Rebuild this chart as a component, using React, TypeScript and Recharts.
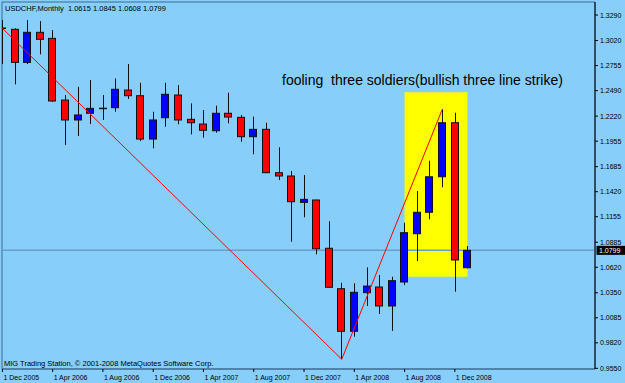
import React from 'react';
import {
    ComposedChart, Bar, Line, XAxis, YAxis, ReferenceArea, ReferenceLine, Customized
} from 'recharts';

// USDCHF monthly, Dec 2005 .. Jan 2009 (index 0 = Dec 2005)
const opens = [
    1.3152, 1.3139, 1.2789, 1.3107, 1.3043, 1.2390, 1.2179, 1.2250, 1.2298, 1.2309,
    1.2496, 1.2436, 1.1977, 1.2203, 1.2443, 1.2186, 1.2136, 1.2065, 1.2250, 1.2207,
    1.2002, 1.2080, 1.1621, 1.1586, 1.1307, 1.1332, 1.0821, 1.0393, 0.9942, 1.0351,
    1.0411, 1.0210, 1.0464, 1.0975, 1.1202, 1.1578, 1.2150, 1.0615,
];
const highs = [
    1.3237, 1.3150, 1.3237, 1.3226, 1.3131, 1.2443, 1.2531, 1.2602, 1.2443, 1.2620,
    1.2771, 1.2573, 1.2266, 1.2573, 1.2549, 1.2355, 1.2284, 1.2330, 1.2468, 1.2232,
    1.2214, 1.2150, 1.1890, 1.1639, 1.1596, 1.1336, 1.1109, 1.0456, 1.0450, 1.0619,
    1.0538, 1.0520, 1.1092, 1.1427, 1.1748, 1.2292, 1.2256, 1.0845,
];
const lows = [
    1.2771, 1.2556, 1.2771, 1.2874, 1.2369, 1.1914, 1.2009, 1.2136, 1.2179, 1.2266,
    1.2401, 1.1956, 1.1879, 1.2108, 1.2133, 1.2027, 1.1991, 1.2044, 1.2144, 1.1949,
    1.1816, 1.1618, 1.1543, 1.0890, 1.1149, 1.0757, 1.0400, 0.9646, 0.9885, 1.0210,
    1.0125, 0.9946, 1.0432, 1.0686, 1.1127, 1.1466, 1.0361, 1.0608,
];
const closes = [
    1.3149, 1.2789, 1.3107, 1.3033, 1.2380, 1.2179, 1.2232, 1.2302, 1.2304, 1.2504,
    1.2436, 1.1977, 1.2179, 1.2451, 1.2179, 1.2150, 1.2070, 1.2250, 1.2210, 1.2002,
    1.2080, 1.1621, 1.1586, 1.1314, 1.1339, 1.0816, 1.0408, 0.9942, 1.0355, 1.0421,
    1.0210, 1.0478, 1.0986, 1.1202, 1.1578, 1.2150, 1.0697, 1.0799,
];

// zigzag turning points (month index -> price)
const zigIndex = [0, 27, 35];
const zigPrice = [1.3149, 0.9646, 1.2292];

const xTicks = [0, 4, 8, 12, 16, 20, 24, 28, 32, 36];
const xTickLabels = [
    '1 Dec 2005', '1 Apr 2006', '1 Aug 2006', '1 Dec 2006', '1 Apr 2007',
    '1 Aug 2007', '1 Dec 2007', '1 Apr 2008', '1 Aug 2008', '1 Dec 2008',
];
const yTicks = [
    0.9550, 0.9820, 1.0085, 1.0350, 1.0620, 1.0885, 1.1155, 1.1420,
    1.1685, 1.1955, 1.2220, 1.2490, 1.2755, 1.3020, 1.3290,
];

// highlighted box around the pattern
const boxFrom = 32;
const boxTo = 37;
const boxLow = 1.0520;
const boxHigh = 1.2472;

const X_DOMAIN: [number, number] = [-0.03, 47.15];
const Y_DOMAIN: [number, number] = [0.9543, 1.3428];

const data = opens.map((o, i) => {
    const z = zigIndex.indexOf(i);
    return {
        i,
        open: o,
        high: highs[i],
        low: lows[i],
        close: closes[i],
        range: [lows[i], highs[i]],
        zig: z >= 0 ? zigPrice[z] : null,
    };
});

const FONT = '"Liberation Sans", Arial, sans-serif';
const BG = '#87CEFA';

const Candle = (props: any) => {
    const { x, y, width, height, payload } = props;
    if (!payload || x == null || y == null) return null;
    const top = Math.min(y, y + height);
    const bot = Math.max(y, y + height);
    const { open, close, high, low } = payload;
    const toPx = (v: number) => top + ((high - v) / (high - low)) * (bot - top);
    const left = Math.round(x);
    const cx = left + Math.floor(width / 2) + 0.5;
    const oy = toPx(open);
    const cy = toPx(close);
    const bTop = Math.min(oy, cy);
    const bBot = Math.max(oy, cy);
    const up = close >= open;
    return (
        <g>
            <line x1={cx} x2={cx} y1={top} y2={bot} stroke="#111" strokeWidth={1} />
            {bBot - bTop < 1.5 ? (
                <line x1={left} x2={left + width} y1={(bTop + bBot) / 2} y2={(bTop + bBot) / 2}
                    stroke="#111" strokeWidth={1.5} />
            ) : (
                <rect x={left + 0.5} y={bTop} width={width - 1} height={bBot - bTop}
                    fill={up ? '#0000FF' : '#FF0000'} stroke="#111" strokeWidth={1} />
            )}
        </g>
    );
};

const XTick = (props: any) => {
    const { x, y, payload } = props;
    const idx = xTicks.indexOf(payload.value);
    return (
        <text x={x + 1} y={y} dy={5.5} fontSize={7} fill="#000" textAnchor="start" fontFamily={FONT}>
            {idx >= 0 ? xTickLabels[idx] : ''}
        </text>
    );
};

const BidLabel = (props: any) => {
    const vb = props.viewBox || {};
    const bx = vb.x + vb.width + 1.5;
    const by = vb.y;
    return (
        <g>
            <rect x={bx} y={by - 4.5} width={29} height={9} fill="#000" />
            <text x={bx + 2.5} y={by + 2.6} fill="#fff" fontSize={7} fontFamily={FONT}>
                {closes[closes.length - 1].toFixed(4)}
            </text>
        </g>
    );
};

const last = data[data.length - 1];

const Texts = () => (
    <g fontFamily={FONT} fill="#000" style={{ whiteSpace: 'pre' }}>
        <text x={5} y={11} fontSize={7.5} xmlSpace="preserve">
            {`USDCHF,Monthly  ${last.open.toFixed(4)} ${last.high.toFixed(4)} ${last.low.toFixed(4)} ${last.close.toFixed(4)}`}
        </text>
        <text x={282} y={85} fontSize={14} xmlSpace="preserve">
            {'fooling  three soldiers(bullish three line strike)'}
        </text>
        <text x={4} y={366} fontSize={7.5}>MIG Trading Station, © 2001-2008 MetaQuotes Software Corp.</text>
    </g>
);

export default function App() {
    return (
        <div style={{ position: 'absolute', left: 0, top: 0, width: 625, height: 383, background: BG }}>
            <ComposedChart
                width={625}
                height={383}
                data={data}
                margin={{ top: 2, right: 0, bottom: 0, left: 2 }}
                style={{ fontFamily: FONT }}
            >
                <XAxis
                    type="number"
                    dataKey="i"
                    domain={X_DOMAIN}
                    allowDataOverflow
                    ticks={xTicks}
                    height={14}
                    tickSize={3}
                    tickMargin={2}
                    axisLine={{ stroke: '#3d6a92' }}
                    tickLine={{ stroke: '#000' }}
                    tick={<XTick />}
                    interval={0}
                />
                <YAxis
                    type="number"
                    orientation="right"
                    domain={Y_DOMAIN}
                    allowDataOverflow
                    ticks={yTicks}
                    width={30}
                    tickSize={3}
                    tickMargin={2}
                    axisLine={{ stroke: '#000' }}
                    tickLine={{ stroke: '#000' }}
                    tick={{ fontSize: 7, fill: '#000', fontFamily: FONT }}
                    tickFormatter={(v: number) => v.toFixed(4)}
                    interval={0}
                />
                <ReferenceArea
                    x1={X_DOMAIN[0]} x2={X_DOMAIN[1]} y1={Y_DOMAIN[0]} y2={Y_DOMAIN[1]}
                    fill="none" stroke="#3d6a92" strokeWidth={1}
                    zIndex={-90}
                />
                <ReferenceArea
                    x1={boxFrom} x2={boxTo} y1={boxLow} y2={boxHigh}
                    fill="#FFFF00" fillOpacity={1} stroke="none"
                    zIndex={-80}
                />
                <ReferenceLine
                    y={last.close}
                    stroke="#6c9ccb"
                    strokeWidth={1.5}
                    label={<BidLabel />}
                    zIndex={-50}
                />
                <Bar
                    dataKey="range"
                    barSize={8}
                    shape={<Candle />}
                    isAnimationActive={false}
                />
                <Line
                    dataKey="zig"
                    type="linear"
                    stroke="#FF0000"
                    strokeWidth={1}
                    dot={false}
                    connectNulls
                    isAnimationActive={false}
                />
                <Customized component={<Texts />} />
            </ComposedChart>
        </div>
    );
}
